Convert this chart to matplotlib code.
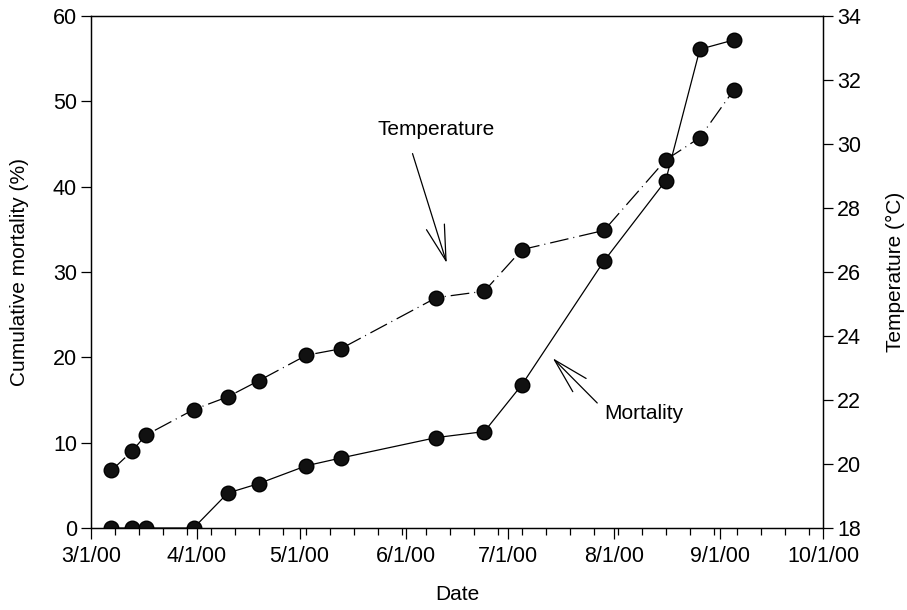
import datetime as dt

import matplotlib
matplotlib.use('Agg')
import matplotlib.pyplot as plt

matplotlib.rcParams['font.family'] = ['Liberation Sans', 'DejaVu Sans']
matplotlib.rcParams['font.size'] = 15

# sampling dates (year 2000)
dates = ['2000-03-07', '2000-03-13', '2000-03-17', '2000-03-31', '2000-04-10',
         '2000-04-19', '2000-05-03', '2000-05-13', '2000-06-10', '2000-06-24',
         '2000-07-05', '2000-07-29', '2000-08-16', '2000-08-26', '2000-09-05']
mortality = [0, 0, 0, 0, 4.1, 5.2, 7.3, 8.2, 10.6, 11.3,
             16.8, 31.3, 40.7, 56.1, 57.2]
temperature = [19.8, 20.4, 20.9, 21.7, 22.1, 22.6, 23.4, 23.6, 25.2, 25.4,
               26.7, 27.3, 29.5, 30.2, 31.7]
month_ticks = ['2000-03-01', '2000-04-01', '2000-05-01', '2000-06-01',
               '2000-07-01', '2000-08-01', '2000-09-01', '2000-10-01']
month_labels = ['3/1/00', '4/1/00', '5/1/00', '6/1/00', '7/1/00', '8/1/00',
                '9/1/00', '10/1/00']


def to_date(s):
    return dt.datetime.strptime(s, '%Y-%m-%d')


def main():
    x = [to_date(d) for d in dates]
    xt = [to_date(d) for d in month_ticks]

    fig = plt.figure(figsize=(9.07, 6.10), dpi=100)
    ax = fig.add_axes([0.1003, 0.1344, 0.8071, 0.8394])
    ax2 = ax.twinx()

    ax.plot(x, mortality, color='black', lw=0.9, marker='o', ms=10.5,
            markeredgecolor='black', markerfacecolor='#111111', zorder=3)
    ax2.plot(x, temperature, color='black', lw=0.9, marker='o', ms=10.5,
             markeredgecolor='black', markerfacecolor='#111111',
             dashes=(15, 4, 0.8, 4), zorder=3)

    ax.set_xlim(xt[0], xt[-1])
    ax.set_ylim(0, 60)
    ax2.set_ylim(18, 34)
    ax.set_yticks(range(0, 61, 10))
    ax2.set_yticks(range(18, 35, 2))

    ax.set_xticks(xt)
    ax.set_xticklabels(month_labels)
    weeks = [xt[0] + dt.timedelta(days=7 * k) for k in range(1, 31)]
    ax.set_xticks(weeks, minor=True)

    ax.tick_params(axis='x', which='major', direction='out', length=8,
                   width=0.9, pad=5, labelsize=15.5)
    ax.tick_params(axis='x', which='minor', direction='out', length=5,
                   width=0.9)
    ax.tick_params(axis='y', direction='out', length=7, width=0.9, pad=3,
                   labelsize=15.5)
    ax2.tick_params(axis='y', direction='out', length=7, width=0.9, pad=3,
                    labelsize=15.5)
    for a in (ax, ax2):
        for sp in a.spines.values():
            sp.set_linewidth(0.9)

    ax.set_xlabel('Date', labelpad=13)
    ax.set_ylabel('Cumulative mortality (%)', labelpad=17)
    ax2.set_ylabel('Temperature (°C)', labelpad=18)

    arrow = dict(arrowstyle='->, head_length=1.7, head_width=0.45',
                 color='black', lw=0.9, shrinkA=0, shrinkB=0,
                 mutation_scale=15)
    ax2.annotate('', xy=(to_date('2000-06-13'), 26.28),
                 xytext=(to_date('2000-06-03'), 29.7), arrowprops=arrow)
    ax2.text(to_date('2000-06-10'), 30.45, 'Temperature',
             ha='center', va='center')
    ax.annotate('', xy=(to_date('2000-07-14'), 19.9),
                xytext=(to_date('2000-07-27'), 14.65), arrowprops=arrow)
    ax.text(to_date('2000-07-29'), 13.4, 'Mortality', ha='left', va='center')

    return fig


if __name__ == '__main__':
    f = main()
    f.savefig('out.png', dpi=100)
